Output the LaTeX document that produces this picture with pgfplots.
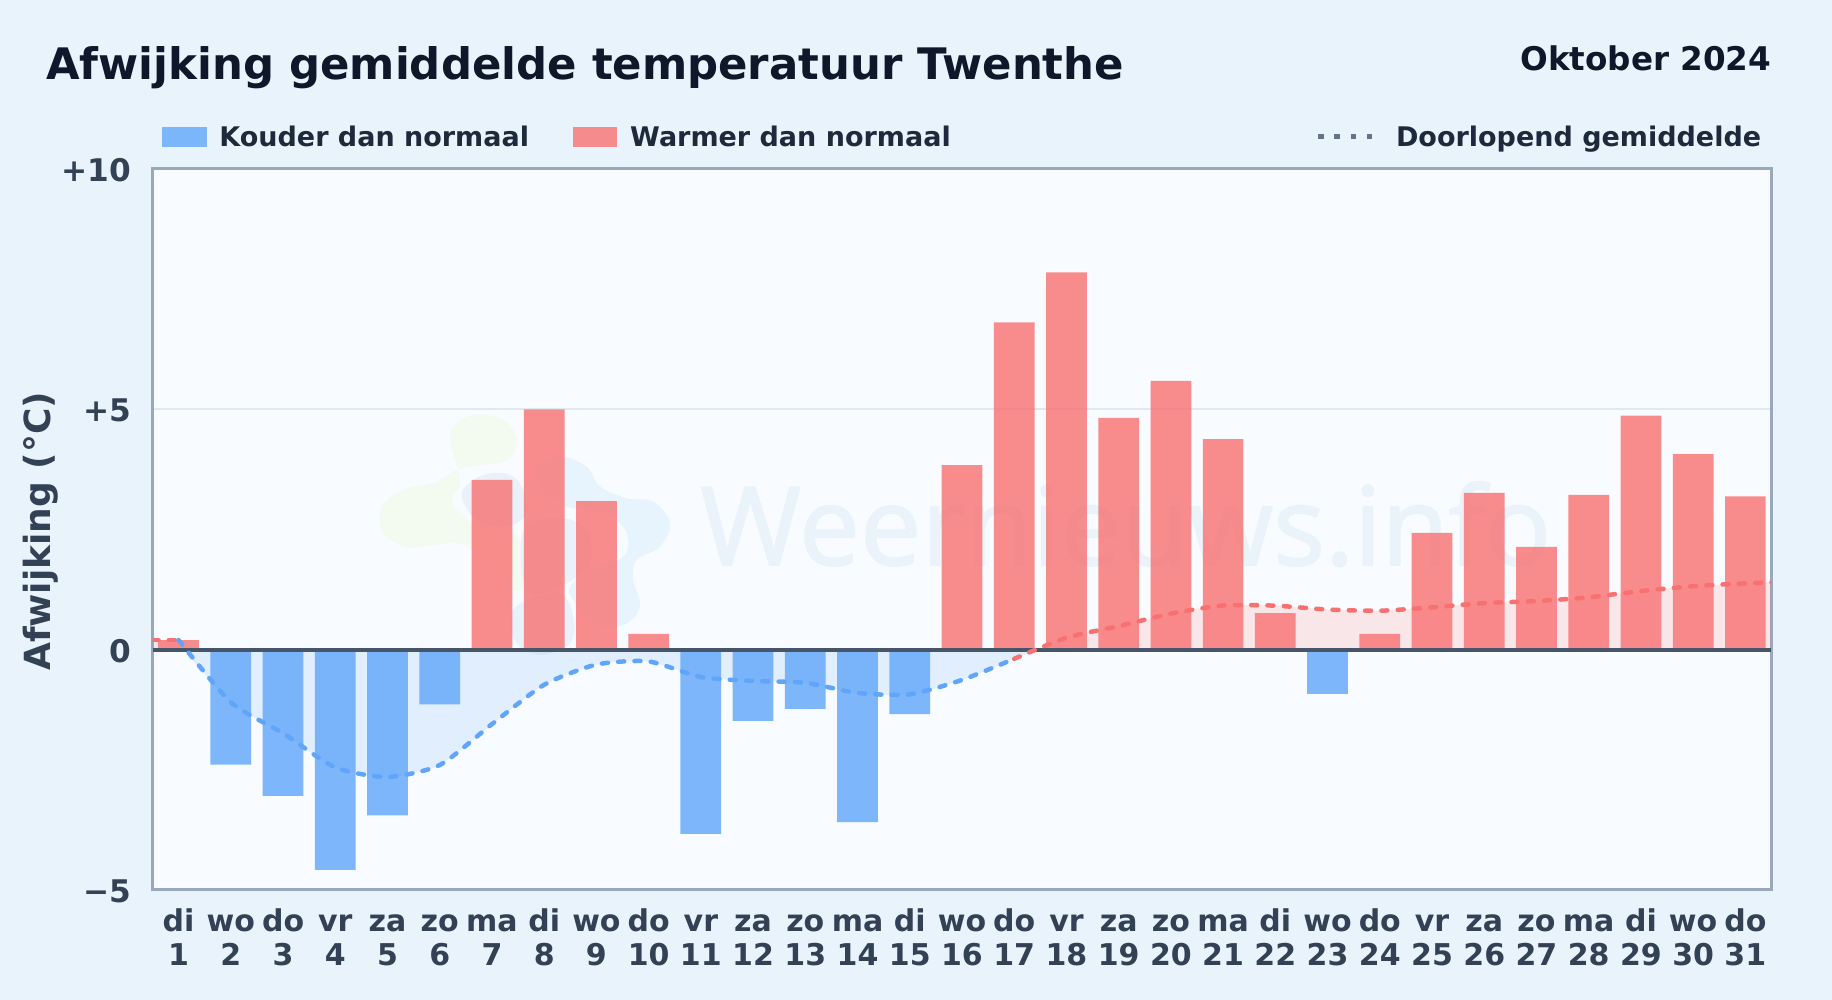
\documentclass[border=0pt]{standalone}
\usepackage{fontspec}
\setmainfont{DejaVu Sans}
\newfontfamily\wmfont[FakeBold=1.5]{Open Sans}
\usepackage{pgfplots}
\pgfplotsset{compat=1.18}

\definecolor{pagebg}{HTML}{E8F3FC}
\definecolor{panelbg}{HTML}{F8FBFF}
\definecolor{spine}{HTML}{9AA8BC}
\definecolor{zeroline}{HTML}{475569}
\definecolor{gridc}{HTML}{E2E8F0}
\definecolor{ticktxt}{HTML}{334155}
\definecolor{legtxt}{HTML}{1E293B}
\definecolor{titletxt}{HTML}{0F172A}
\definecolor{coldc}{HTML}{60A5FA}
\definecolor{warmc}{HTML}{F87171}
\definecolor{meanc}{HTML}{64748B}
\definecolor{wmtext}{HTML}{EAF2FA}
\definecolor{wmgreen}{HTML}{F3FAF0}
\definecolor{wmblue}{HTML}{E8F4FD}
\definecolor{wmgrey}{HTML}{E9F1FA}

% two-line day label with a fixed first line height
\newcommand{\dl}[2]{\rule{0pt}{24pt}#1\\#2}

\begin{document}
\begin{tikzpicture}[x=1pt,y=1pt]
% page and panel, 1pt = 1px of the reference
\fill[pagebg] (0,0) rectangle (1832,1000);
\fill[panelbg] (152.5,110) rectangle (1771.5,831);

% watermark behind the bars
\begin{scope}[x=0.3333pt,y=-0.3333pt,shift={(360pt,610pt)}]
\fill[wmgreen] plot[smooth cycle,tension=0.6] coordinates {(270,130) (340,75) (430,90) (470,150) (440,210) (360,225) (290,240) (230,275) (130,300) (65,350) (70,430) (140,470) (220,465) (300,460) (360,500) (400,570) (480,600) (500,500) (460,430) (380,420) (310,380) (275,330) (300,270)};
\fill[wmblue] plot[smooth cycle,tension=0.6] coordinates {(530,230) (600,200) (680,230) (720,290) (800,325) (880,335) (930,400) (900,470) (830,510) (820,570) (840,650) (790,705) (700,700) (640,630) (630,590) (690,540) (790,500) (800,430) (740,370) (620,350) (550,300)};
\fill[wmgrey] plot[smooth cycle,tension=0.6] coordinates {(305,310) (370,255) (450,255) (490,300) (500,370) (440,410) (350,390)};
\fill[wmgrey] plot[smooth cycle,tension=0.6] coordinates {(450,680) (500,630) (600,610) (640,680) (630,760) (540,795) (470,760)};
\fill[wmgrey] plot[smooth cycle,tension=0.6] coordinates {(490,420) (600,385) (680,420) (690,520) (600,590) (500,600)};
\end{scope}
\node[anchor=base west,inner sep=0pt,text=wmtext] at (700,435) {\wmfont\fontsize{109}{120}\selectfont Weernieuws.info};

\begin{axis}[
  at={(152.5pt,110pt)},
  anchor=south west,
  scale only axis,
  width=1619pt,
  height=721pt,
  xmin=0.5, xmax=31.5,
  ymin=-5, ymax=10,
  xtick={1,...,31},
  xticklabels={{\dl{di}{1}},{\dl{wo}{2}},{\dl{do}{3}},{\dl{vr}{4}},{\dl{za}{5}},{\dl{zo}{6}},{\dl{ma}{7}},{\dl{di}{8}},{\dl{wo}{9}},{\dl{do}{10}},{\dl{vr}{11}},{\dl{za}{12}},{\dl{zo}{13}},{\dl{ma}{14}},{\dl{di}{15}},{\dl{wo}{16}},{\dl{do}{17}},{\dl{vr}{18}},{\dl{za}{19}},{\dl{zo}{20}},{\dl{ma}{21}},{\dl{di}{22}},{\dl{wo}{23}},{\dl{do}{24}},{\dl{vr}{25}},{\dl{za}{26}},{\dl{zo}{27}},{\dl{ma}{28}},{\dl{di}{29}},{\dl{wo}{30}},{\dl{do}{31}}},
  ytick={-5,0,5,10},
  yticklabels={−5,0,+5,+10},
  major tick length=0pt,
  ymajorgrids,
  grid style={gridc,line width=1.8pt},
  axis line style={spine,line width=3pt},
  xticklabel style={align=center,anchor=north,inner sep=0pt,yshift=-17pt,text=ticktxt,font=\fontsize{30}{34.3}\selectfont\bfseries},
  yticklabel style={anchor=east,inner sep=0pt,xshift=-21pt,yshift=-1pt,text=ticktxt,font=\fontsize{31.2}{34}\selectfont\bfseries},
  ylabel={Afwijking (°C)},
  every axis y label/.style={at={(axis description cs:-0.0692,0.4975)},rotate=90,anchor=center,inner sep=0pt,text=ticktxt,font=\fontsize{36}{40}\selectfont\bfseries},
  title={Afwijking gemiddelde temperatuur Twenthe},
  every axis title/.style={at={(axis description cs:-0.0658,1.1248)},anchor=base west,inner sep=0pt,text=titletxt,font=\fontsize{43.4}{48}\selectfont\bfseries},
  legend columns=3,
  legend cell align=left,
  legend style={
    at={(axis description cs:0.00587,1.0447)},anchor=west,
    draw=none,fill=none,inner sep=0pt,outer sep=0pt,
    text=legtxt,font=\fontsize{27}{30}\selectfont\bfseries,
    nodes={inner sep=0pt},
    /tikz/column 1/.style={column sep=13pt},
    /tikz/column 2/.style={column sep=43.7pt},
    /tikz/column 3/.style={column sep=14pt},
    /tikz/column 4/.style={column sep=364.8pt},
    /tikz/column 5/.style={column sep=18.5pt},
  },
]
\addlegendimage{legend image code/.code={\fill[color=coldc!80!pagebg] (0,-9.5pt) rectangle (44pt,9.5pt);}}
\addlegendentry{Kouder dan normaal}
\addlegendimage{legend image code/.code={\fill[color=warmc!80!pagebg] (0,-9.5pt) rectangle (43pt,9.5pt);}}
\addlegendentry{Warmer dan normaal}
\addlegendimage{legend image code/.code={\draw[meanc,line width=5pt,dash pattern=on 5.5pt off 10.8pt] (0,0) -- (57pt,0);}}
\addlegendentry{Doorlopend gemiddelde}

% area between the running mean and zero
\addplot[forget plot,draw=none,fill=coldc,fill opacity=0.15,smooth,tension=0.4] coordinates {
(1.1,0) (2,-1.095) (3,-1.74) (4,-2.45) (5,-2.65) (6,-2.40) (7,-1.55) (8,-0.73) (9,-0.31) (10,-0.245) (11,-0.57) (12,-0.65) (13,-0.69) (14,-0.90) (15,-0.93) (16,-0.63) (17,-0.19) (17.43,0)
} \closedcycle;
\addplot[forget plot,draw=none,fill=warmc,fill opacity=0.15,smooth,tension=0.4] coordinates {
(17.43,0) (18,0.25) (19,0.49) (20,0.75) (21,0.92) (22,0.915) (23,0.835) (24,0.81) (25,0.88) (26,0.97) (27,1.01) (28,1.09) (29,1.22) (30,1.32) (31,1.38) (31.5,1.40)
} \closedcycle;
\addplot[forget plot,draw=none,fill=warmc,fill opacity=0.15] coordinates {(0.5,0.2) (1,0.2) (1.1,0)} \closedcycle;

% daily bars
\addplot[forget plot,ybar,bar width=0.78,bar shift=0pt,draw=none,fill=coldc,fill opacity=0.8] coordinates {
(2,-2.39) (3,-3.04) (4,-4.58) (5,-3.45) (6,-1.14) (11,-3.83) (12,-1.48) (13,-1.23) (14,-3.59) (15,-1.34) (23,-0.92)
};
\addplot[forget plot,ybar,bar width=0.78,bar shift=0pt,draw=none,fill=warmc,fill opacity=0.8] coordinates {
(1,0.20) (7,3.53) (8,5.00) (9,3.09) (10,0.33) (16,3.84) (17,6.81) (18,7.85) (19,4.82) (20,5.59) (21,4.38) (22,0.76) (24,0.33) (25,2.43) (26,3.26) (27,2.14) (28,3.22) (29,4.87) (30,4.07) (31,3.19)
};

% zero line
\addplot[forget plot,zeroline,line width=4pt] coordinates {(0.5,0) (31.5,0)};

% running mean
\addplot[forget plot,warmc,line width=4.5pt,line cap=round,dash pattern=on 6pt off 10.3pt] coordinates {(0.5,0.2) (1,0.2)};
\addplot[forget plot,coldc,line width=4.5pt,line cap=round,dash pattern=on 6pt off 10.3pt,smooth,tension=0.4] coordinates {
(1,0.2) (2,-1.095) (3,-1.74) (4,-2.45) (5,-2.65) (6,-2.40) (7,-1.55) (8,-0.73) (9,-0.31) (10,-0.245) (11,-0.57) (12,-0.65) (13,-0.69) (14,-0.90) (15,-0.93) (16,-0.63) (17,-0.19)
};
\addplot[forget plot,warmc,line width=4.5pt,line cap=round,dash pattern=on 6pt off 10.3pt,smooth,tension=0.4] coordinates {
(17,-0.19) (18,0.25) (19,0.49) (20,0.75) (21,0.92) (22,0.915) (23,0.835) (24,0.81) (25,0.88) (26,0.97) (27,1.01) (28,1.09) (29,1.22) (30,1.32) (31,1.38) (31.5,1.40)
};
\end{axis}
\node[anchor=base east,inner sep=0pt,text=titletxt,font=\fontsize{32.6}{36}\selectfont\bfseries] at (1771.5,929.5) {Oktober 2024};
\end{tikzpicture}
\end{document}
